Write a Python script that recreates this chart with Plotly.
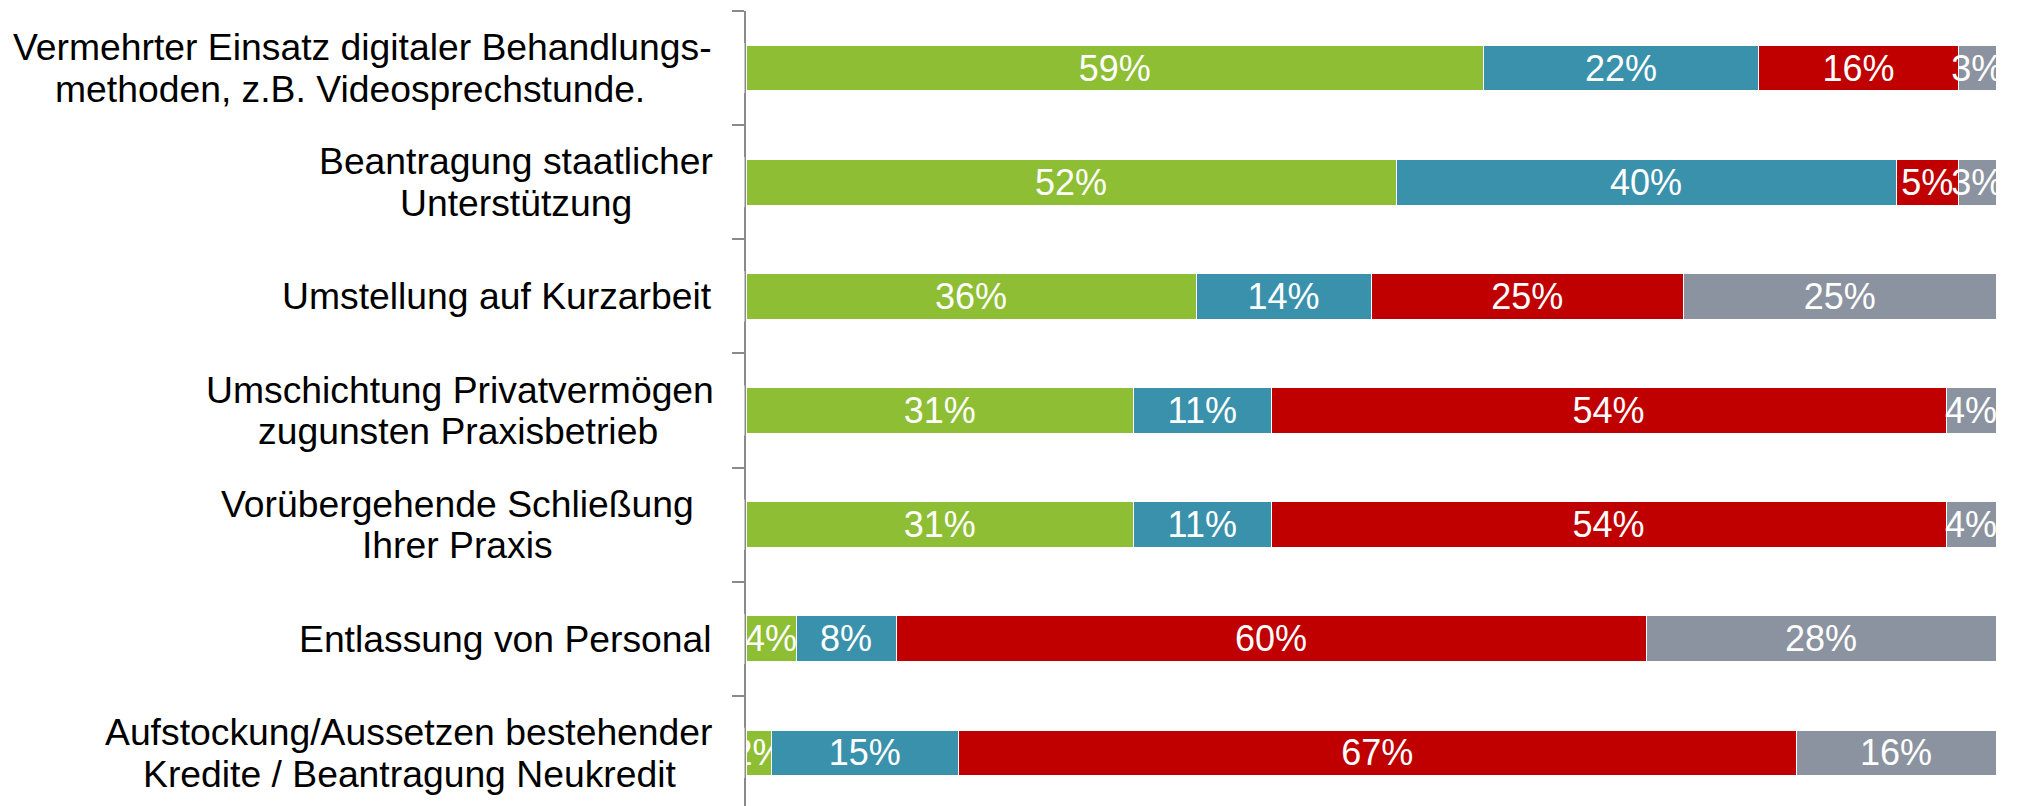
import plotly.graph_objects as go

# category labels (one entry per bar, lines separated)
categories = [
    ["Vermehrter Einsatz digitaler Behandlungs-", "methoden, z.B. Videosprechstunde."],
    ["Beantragung staatlicher", "Unterstützung"],
    ["Umstellung auf Kurzarbeit"],
    ["Umschichtung Privatvermögen", "zugunsten Praxisbetrieb"],
    ["Vorübergehende Schließung", "Ihrer Praxis"],
    ["Entlassung von Personal"],
    ["Aufstockung/Aussetzen bestehender", "Kredite / Beantragung Neukredit"],
]
series_green = [59, 52, 36, 31, 31, 4, 2]
series_teal = [22, 40, 14, 11, 11, 8, 15]
series_red = [16, 5, 25, 54, 54, 60, 67]
series_gray = [3, 3, 25, 4, 4, 28, 16]

colors = ["#8DBE33", "#3A91AB", "#C00000", "#8C93A0"]
ids = list(range(len(categories)))

fig = go.Figure()
for vals, col in zip([series_green, series_teal, series_red, series_gray], colors):
    fig.add_trace(go.Bar(
        y=ids, x=vals, orientation="h", width=0.4,
        marker=dict(color=col, line=dict(color="white", width=1)),
        text=[f"{v}%" for v in vals], textposition="inside",
        insidetextanchor="middle", textangle=0, constraintext="none",
        textfont=dict(color="white", size=36, family="Liberation Sans, Arial"),
        showlegend=False, hoverinfo="skip",
    ))

# label layout: centre x (pixels) for each line; None -> right aligned
AXIS_PX = 746
RIGHT_EDGE = 714
line_centers = [
    [362, 350],
    [516, 516],
    [None],
    [460, 458],
    [457, 457],
    [None],
    [409, 409],
]
LINE_GAP = 41.6
lab_font = dict(size=37.3, color="black", family="Liberation Sans, Arial")
for i, (lines, centers) in enumerate(zip(categories, line_centers)):
    n = len(lines)
    for k, (ln, cx) in enumerate(zip(lines, centers)):
        ys = -(k - (n - 1) / 2) * LINE_GAP
        if cx is None:
            fig.add_annotation(x=0, xref="x domain", y=i, yref="y", text=ln,
                               showarrow=False, xanchor="right", yanchor="middle",
                               xshift=RIGHT_EDGE - AXIS_PX, yshift=ys, font=lab_font)
        else:
            fig.add_annotation(x=0, xref="x domain", y=i, yref="y", text=ln,
                               showarrow=False, xanchor="center", yanchor="middle",
                               xshift=cx - AXIS_PX, yshift=ys, font=lab_font)

# clip overflowing value labels at the plot edges
shapes = [dict(type="rect", xref="x domain", yref="paper", x0=1.0, x1=1.05, y0=0, y1=1,
               fillcolor="white", line=dict(width=0), layer="above")]
for i in ids:
    shapes.append(dict(type="rect", xref="x domain", yref="y", x0=-0.024, x1=-0.0012,
                       y0=i - 0.22, y1=i + 0.22, fillcolor="white",
                       line=dict(width=0), layer="above"))

fig.update_layout(
    barmode="stack",
    width=2036, height=806,
    margin=dict(l=AXIS_PX, r=40, t=11, b=0),
    paper_bgcolor="white", plot_bgcolor="white",
    uniformtext=dict(minsize=36, mode="show"),
    shapes=shapes,
    xaxis=dict(range=[0, 100], showgrid=False, zeroline=False, showticklabels=False,
               showline=False, ticks=""),
    yaxis=dict(range=[6.465, -0.5], showgrid=False, zeroline=False,
               showline=True, linecolor="#8A8A8A", linewidth=2,
               ticks="outside", ticklen=12, tickwidth=2, tickcolor="#8A8A8A",
               tickmode="array", tickvals=[i - 0.5 for i in ids] + [6.5],
               showticklabels=False),
)

fig.write_html("out.html", config={"displayModeBar": False},
               post_script="document.body.style.margin='0';document.body.style.overflow='hidden';")
